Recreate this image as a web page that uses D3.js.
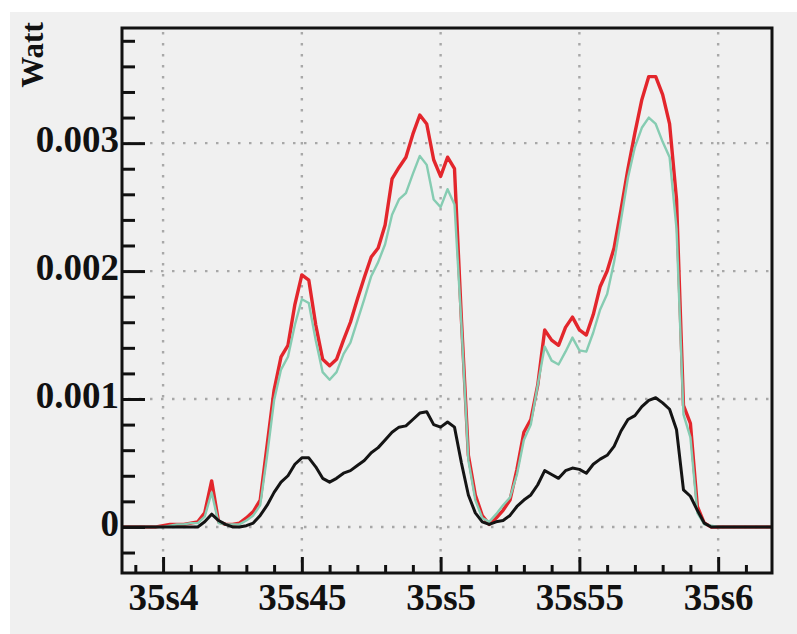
<!DOCTYPE html>
<html>
<head>
<meta charset="utf-8">
<script src="https://cdn.jsdelivr.net/npm/d3@7"></script>
<style>
  html, body { margin: 0; padding: 0; background: #fff; }
  svg { display: block; }
</style>
</head>
<body>
<div id="chart"></div>
<script>
// sample times (s) and power (W)
const times = [
  35.385, 35.3875, 35.39, 35.3925, 35.395, 35.3975, 35.4, 35.4025, 35.405, 35.4075,
  35.41, 35.4125, 35.415, 35.4175, 35.42, 35.4225, 35.425, 35.4275, 35.43, 35.4325,
  35.435, 35.4375, 35.44, 35.4425, 35.445, 35.4475, 35.45, 35.4525, 35.455, 35.4575,
  35.46, 35.4625, 35.465, 35.4675, 35.47, 35.4725, 35.475, 35.4775, 35.48, 35.4825,
  35.485, 35.4875, 35.49, 35.4925, 35.495, 35.4975, 35.5, 35.5025, 35.505, 35.5075,
  35.51, 35.5125, 35.515, 35.5175, 35.52, 35.5225, 35.525, 35.5275, 35.53, 35.5325,
  35.535, 35.5375, 35.54, 35.5425, 35.545, 35.5475, 35.55, 35.5525, 35.555, 35.5575,
  35.56, 35.5625, 35.565, 35.5675, 35.57, 35.5725, 35.575, 35.5775, 35.58, 35.5825,
  35.585, 35.5875, 35.59, 35.5925, 35.595, 35.5975, 35.6, 35.6025, 35.605, 35.6075,
  35.61, 35.6125, 35.615, 35.6175, 35.62
];
const redWatt = [
  0, 0, 0, 0, 0, 0, 0.00001, 0.00002, 0.00002, 0.00002,
  0.00003, 0.00004, 0.00011, 0.00036, 0.00004, 0.00002, 0.00002, 0.00003, 0.00007, 0.00012,
  0.00021, 0.00064, 0.00107, 0.00133, 0.00142, 0.00174, 0.00197, 0.00193, 0.00158, 0.00131,
  0.00126, 0.00131, 0.00146, 0.00160, 0.00178, 0.00195, 0.00211, 0.00218, 0.00236, 0.00272,
  0.00281, 0.00289, 0.00307, 0.00322, 0.00315, 0.00287, 0.00274, 0.00289, 0.00280, 0.00162,
  0.00056, 0.00025, 0.00009, 0.00002, 0.00007, 0.00013, 0.00021, 0.00045, 0.00074, 0.00084,
  0.00111, 0.00154, 0.00146, 0.00142, 0.00156, 0.00164, 0.00154, 0.00150, 0.00166, 0.00188,
  0.00200, 0.00218, 0.00248, 0.00280, 0.00308, 0.00334, 0.00352, 0.00352, 0.00338, 0.00315,
  0.00256, 0.00095, 0.00081, 0.00016, 0.00003, 0, 0, 0, 0, 0,
  0, 0, 0, 0, 0
];
const greenWatt = [
  0, 0, 0, 0, 0, 0, 0, 0.00001, 0.00002, 0.00002,
  0.00003, 0.00003, 0.00008, 0.00027, 0.00003, 0.00002, 0.00002, 0.00002, 0.00005, 0.00009,
  0.00017, 0.00056, 0.00099, 0.00123, 0.00133, 0.00158, 0.00178, 0.00175, 0.00146, 0.00121,
  0.00115, 0.00121, 0.00135, 0.00144, 0.00161, 0.00178, 0.00196, 0.00207, 0.00221, 0.00244,
  0.00256, 0.00261, 0.00276, 0.00290, 0.00283, 0.00256, 0.00250, 0.00264, 0.00252, 0.00158,
  0.00052, 0.00021, 0.00007, 0.00004, 0.00010, 0.00017, 0.00023, 0.00041, 0.00068, 0.00080,
  0.00111, 0.00141, 0.00130, 0.00127, 0.00137, 0.00148, 0.00138, 0.00137, 0.00152, 0.00170,
  0.00182, 0.00207, 0.00240, 0.00273, 0.00297, 0.00312, 0.00320, 0.00315, 0.00301, 0.00289,
  0.00233, 0.00088, 0.00070, 0.00011, 0.00002, 0.00001, 0, 0, 0, 0,
  0, 0, 0, 0, 0
];
const blackWatt = [
  0, 0, 0, 0, 0, 0, 0, 0, 0, 0,
  0, 0, 0.00004, 0.00010, 0.00005, 0.00002, 0, 0, 0.00001, 0.00003,
  0.00009, 0.00017, 0.00027, 0.00035, 0.00040, 0.00049, 0.00054, 0.00054, 0.00047, 0.00038,
  0.00035, 0.00038, 0.00042, 0.00044, 0.00048, 0.00052, 0.00058, 0.00062, 0.00068, 0.00074,
  0.00078, 0.00079, 0.00084, 0.00089, 0.00090, 0.00080, 0.00078, 0.00082, 0.00078, 0.00050,
  0.00025, 0.00011, 0.00004, 0.00002, 0.00004, 0.00005, 0.00009, 0.00016, 0.00021, 0.00025,
  0.00033, 0.00044, 0.00041, 0.00038, 0.00044, 0.00046, 0.00045, 0.00042, 0.00049, 0.00053,
  0.00056, 0.00063, 0.00075, 0.00084, 0.00087, 0.00094, 0.00099, 0.00101, 0.00097, 0.00092,
  0.00076, 0.00029, 0.00024, 0.00013, 0.00003, 0, 0, 0, 0, 0,
  0, 0, 0, 0, 0
];

const xTicks = [35.4, 35.45, 35.5, 35.55, 35.6];
const xTickLabels = ['35s4', '35s45', '35s5', '35s55', '35s6'];
const xMinor = [35.39, 35.41, 35.42, 35.43, 35.44, 35.46, 35.47, 35.48, 35.49,
  35.51, 35.52, 35.53, 35.54, 35.56, 35.57, 35.58, 35.59, 35.61];
const yTicks = [0, 0.001, 0.002, 0.003];
const yTickLabels = ['0', '0.001', '0.002', '0.003'];
const yMinor = [-0.0002, 0.0002, 0.0004, 0.0006, 0.0008, 0.0012, 0.0014, 0.0016, 0.0018,
  0.0022, 0.0024, 0.0026, 0.0028, 0.0032, 0.0034, 0.0036, 0.0038];

(function() {
    const W = 797, H = 634;
    const box = { left: 122, top: 28, right: 772, bottom: 573 };
    const serif = '"Liberation Serif", "DejaVu Serif", serif';

    const svg = d3.select('#chart').append('svg').attr('width', W).attr('height', H);

    // panel background, white strip at the top
    svg.append('rect').attr('width', W).attr('height', H).attr('fill', '#fff');
    svg.append('rect').attr('x', 10).attr('y', 12).attr('width', W - 10).attr('height', H - 12).attr('fill', '#f0f0f0');

    const x = d3.scaleLinear().domain([35.3852, 35.6194]).range([box.left, box.right]);
    const y = d3.scaleLinear().domain([-0.00036, 0.0039]).range([box.bottom, box.top]);

    // dotted grid
    const grid = svg.append('g').attr('stroke', '#a8a8a8').attr('stroke-width', 2.4).attr('stroke-dasharray', '2.5,8.5');
    grid.selectAll('line.gx').data(xTicks).enter().append('line')
        .attr('x1', d => x(d)).attr('x2', d => x(d)).attr('y1', box.top + 4).attr('y2', box.bottom);
    grid.selectAll('line.gy').data(yTicks).enter().append('line')
        .attr('y1', d => y(d)).attr('y2', d => y(d)).attr('x1', box.left + 6).attr('x2', box.right);

    // curves
    svg.append('clipPath').attr('id', 'plotclip').append('rect')
        .attr('x', box.left).attr('y', box.top).attr('width', box.right - box.left).attr('height', box.bottom - box.top);
    const plot = svg.append('g').attr('clip-path', 'url(#plotclip)');
    const series = [
        { vals: redWatt, color: '#e3262c', width: 3.4 },
        { vals: greenWatt, color: '#86ccb2', width: 2.4 },
        { vals: blackWatt, color: '#141414', width: 3 }
    ];
    series.forEach(s => {
        const line = d3.line().x((d, i) => x(times[i])).y(d => y(d));
        plot.append('path').datum(s.vals).attr('d', line)
            .attr('fill', 'none').attr('stroke', s.color).attr('stroke-width', s.width)
            .attr('stroke-linejoin', 'round');
    });

    // axes: ticks point inward
    const yAxis = svg.append('g').attr('transform', `translate(${box.left},0)`)
        .call(d3.axisLeft(y).tickValues(yTicks).tickSize(-23).tickPadding(3)
            .tickFormat((d, i) => yTickLabels[i]));
    svg.append('g').attr('transform', `translate(${box.left},0)`)
        .call(d3.axisLeft(y).tickValues(yMinor).tickSize(-13).tickFormat(''))
        .call(g => g.select('.domain').remove());

    const xAxis = svg.append('g').attr('transform', `translate(0,${box.bottom})`)
        .call(d3.axisBottom(x).tickValues(xTicks).tickSize(-16).tickPadding(11)
            .tickFormat((d, i) => xTickLabels[i]));
    svg.append('g').attr('transform', `translate(0,${box.bottom})`)
        .call(d3.axisBottom(x).tickValues(xMinor).tickSize(-8).tickFormat(''))
        .call(g => g.select('.domain').remove());

    svg.selectAll('.domain').remove();
    svg.selectAll('.tick line').attr('stroke', '#111').attr('stroke-width', 3);
    yAxis.selectAll('text').attr('dy', '0.22em');
    svg.selectAll('.tick text').attr('fill', '#111')
        .style('font-family', serif).style('font-weight', 'bold').style('font-size', '37px');

    // frame
    svg.append('rect').attr('x', box.left).attr('y', box.top)
        .attr('width', box.right - box.left).attr('height', box.bottom - box.top)
        .attr('fill', 'none').attr('stroke', '#111').attr('stroke-width', 3);

    // unit label
    svg.append('text').attr('transform', 'translate(43,55) rotate(-90)')
        .attr('text-anchor', 'middle').attr('fill', '#111')
        .style('font-family', serif).style('font-weight', 'bold').style('font-size', '31px')
        .text('Watt');
})();
</script>
</body>
</html>
